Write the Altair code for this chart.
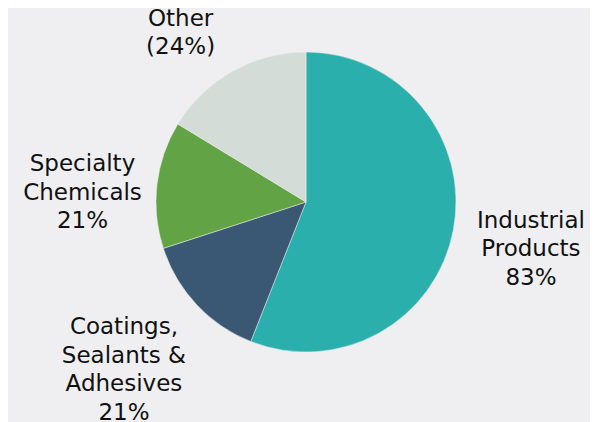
import altair as alt
import pandas as pd
import math

segments = ["Industrial Products", "Coatings, Sealants & Adhesives", "Specialty Chemicals", "Other"]
shares = [56.0, 14.0, 13.7, 16.3]
labels = ["Industrial\nProducts\n83%", "Coatings,\nSealants &\nAdhesives\n21%", "Specialty\nChemicals\n21%", "Other\n(24%)"]
colors = ["#2BAFAC", "#3A5874", "#62A345", "#D3DCD7"]

df = pd.DataFrame({"Segment": segments, "Share": shares, "Label": labels, "order": list(range(len(segments)))})

base = alt.Chart(df)

pie = base.mark_arc(outerRadius=150, stroke="#EFEFF1", strokeWidth=0.5).encode(
    theta=alt.Theta("Share:Q", stack=True),
    order=alt.Order("order:Q"),
    color=alt.Color("Segment:N", scale=alt.Scale(domain=segments, range=colors), legend=None),
)

label_style = dict(font="DejaVu Sans", fontSize=23, lineHeight=28.5, color="#111111",
                   align="center", baseline="middle", lineBreak="\n")

text_base = base.transform_window(
    cum="sum(Share)", sort=[alt.SortField("order")], frame=[None, 0]
).transform_joinaggregate(
    total="sum(Share)"
).transform_calculate(
    mid="(datum.cum - datum.Share / 2) / datum.total"
)

def label_layer(seg, radius, dx=0, dy=0):
    return text_base.transform_filter(alt.datum.Segment == seg).mark_text(
        radius=radius, dx=dx, dy=dy, **label_style
    ).encode(
        theta=alt.Theta("mid:Q", stack=None, scale=alt.Scale(domain=[0, 1], range=[0, 2 * math.pi])),
        text=alt.Text("Label:N"),
    )

layers = [
    pie,
    label_layer("Industrial Products", 229, 0, -24),
    label_layer("Coatings, Sealants & Adhesives", 247, -2, -44),
    label_layer("Specialty Chemicals", 223, -2, -12),
    label_layer("Other", 209, -23, -1),
]

chart = alt.layer(*layers).resolve_scale(theta="independent").properties(
    width=568, height=388,
    padding={"left": 14, "top": 0, "right": 0, "bottom": 26},
    autosize=alt.AutoSizeParams(type="none"),
    background="#EFEFF1",
).configure_view(stroke=None)

chart.save("out.html", embed_options={"renderer": "svg", "actions": False})
